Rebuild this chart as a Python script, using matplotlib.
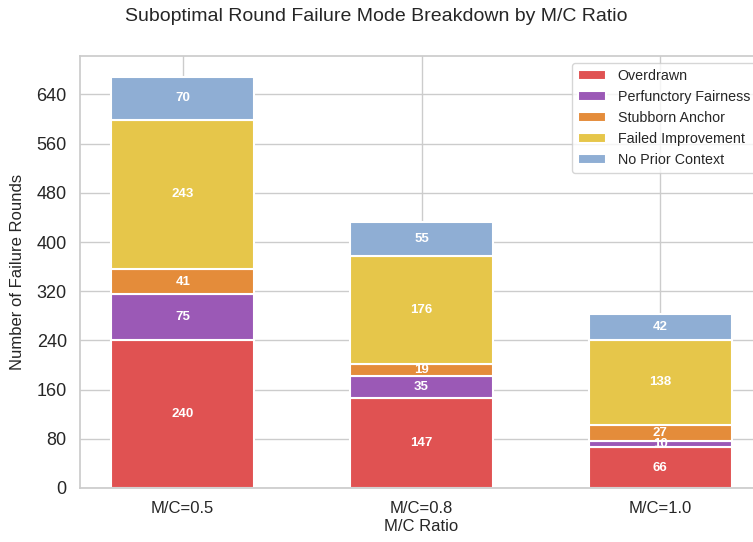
import numpy as np
import matplotlib
matplotlib.use("Agg")
import matplotlib.pyplot as plt
import seaborn as sns

sns.set_theme(style="whitegrid")
plt.rcParams['font.family'] = ['Liberation Sans', 'DejaVu Sans']

ratios = ["M/C=0.5", "M/C=0.8", "M/C=1.0"]
modes = ["Overdrawn", "Perfunctory Fairness", "Stubborn Anchor",
         "Failed Improvement", "No Prior Context"]
overdrawn = [240, 147, 66]
perfunctory = [75, 35, 10]
stubborn = [41, 19, 27]
failed = [243, 176, 138]
no_prior = [70, 55, 42]
colors = ["#e05252", "#9b59b6", "#e48c3a", "#e6c64a", "#8faed4"]

series = [overdrawn, perfunctory, stubborn, failed, no_prior]

fig = plt.figure(figsize=(7.53, 5.42), dpi=100)
ax = fig.add_axes([80 / 753, (542 - 488) / 542, 683 / 753, 432 / 542])

x = np.arange(len(ratios))
bottom = np.zeros(len(ratios))
for vals, name, c in zip(series, modes, colors):
    bars = ax.bar(x, vals, 0.6, bottom=bottom, color=c, label=name,
                  edgecolor="white", linewidth=1.5)
    for b, v, y0 in zip(bars, vals, bottom):
        ax.text(b.get_x() + b.get_width() / 2, y0 + v / 2, str(v),
                ha="center", va="center", color="white",
                fontsize=9.5, fontweight="bold")
    bottom += np.array(vals)

ax.set_xticks(x)
ax.set_xticklabels(ratios, fontsize=12)
ax.set_yticks(np.arange(0, 641, 80))
ax.tick_params(axis="y", labelsize=13)
ax.set_xlabel("M/C Ratio", fontsize=12, labelpad=2)
ax.set_ylabel("Number of Failure Rounds", fontsize=12, labelpad=8)
fig.suptitle("Suboptimal Round Failure Mode Breakdown by M/C Ratio",
             fontsize=14, y=0.985)
ax.legend(loc="upper right", fontsize=10.3, frameon=True)

fig.savefig("out.png", dpi=100)
